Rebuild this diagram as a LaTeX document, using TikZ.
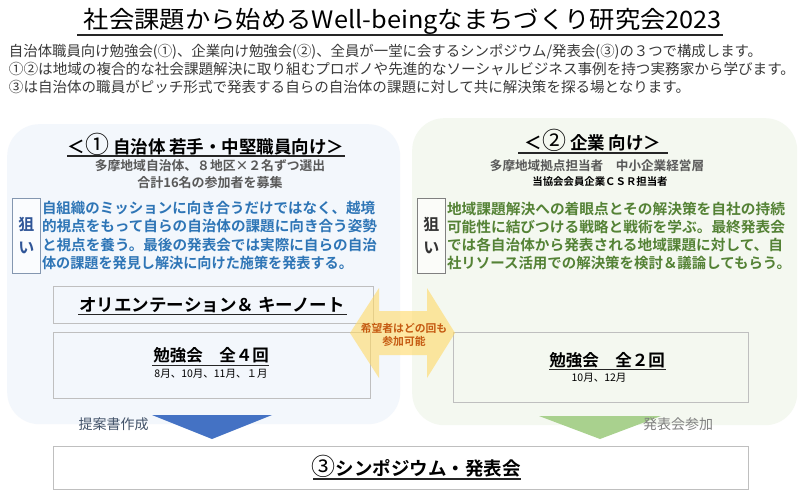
\documentclass[tikz,border=0pt]{standalone}
\usepackage{fontspec}
\usepackage{graphicx}
\setmainfont{Noto Sans CJK JP}[BoldFont={Noto Sans CJK JP Bold}]
\usetikzlibrary{calc}
\definecolor{lpanelc}{HTML}{F3F7FC}
\definecolor{rpanelc}{HTML}{F4F8F0}
\definecolor{boxline}{HTML}{BFBFBF}
\definecolor{bluetxt}{HTML}{2E75B6}
\definecolor{greentxt}{HTML}{548235}
\definecolor{graytxt}{HTML}{595959}
\definecolor{introtxt}{HTML}{3A3A3A}
\definecolor{arrowfill}{HTML}{FFD966}
\definecolor{arrowtxt}{HTML}{C55A11}
\definecolor{tblue}{HTML}{4472C4}
\definecolor{tgreen}{HTML}{A9D18E}
\definecolor{lbltxt}{HTML}{44546A}
\definecolor{lnerai}{HTML}{8497B0}
\definecolor{lneraitxt}{HTML}{2F5597}
\newcommand{\myfs}[1]{\fontsize{#1}{#1}\selectfont}
\newcommand{\fitw}[2]{\resizebox{#1}{\height}{#2}}
\begin{document}
\begin{tikzpicture}[x=1pt,y=-1pt,
  txt/.style={inner sep=0pt, outer sep=0pt},
  panel/.style={draw=none, rounded corners=32pt, anchor=north west, inner sep=0pt},
  box/.style={draw=boxline, line width=1pt, anchor=north west, inner sep=0pt},
  nerai/.style={line width=0.9pt, anchor=north west, inner sep=0pt, align=center, font=\bfseries\myfs{16}},
  uline/.style={line width=1.1pt, black!85},
  para/.style={txt, anchor=west, font=\bfseries\myfs{14.5}}
]
\useasboundingbox (0,0) rectangle (800,500);
\fill[white] (0,0) rectangle (800,500);

% title
\node[txt, font=\myfs{24}] (title) at (403,21.5) {\fitw{638pt}{社会課題から始めるWell-beingなまちづくり研究会2023}};
\draw[uline, line width=1.3pt] (77,35) coordinate (tu1) -- (723,35) coordinate (tu2);

% intro
\node[txt, anchor=west, font=\myfs{14.5}, text=introtxt] (intro1) at (9,52) {\fitw{753pt}{自治体職員向け勉強会(①)、企業向け勉強会(②)、全員が一堂に会するシンポジウム/発表会(③)の３つで構成します。}};
\node[txt, anchor=west, font=\myfs{14.5}, text=introtxt] (intro2) at (9,69.5) {\fitw{786pt}{①②は地域の複合的な社会課題解決に取り組むプロボノや先進的なソーシャルビジネス事例を持つ実務家から学びます。}};
\node[txt, anchor=west, font=\myfs{14.5}, text=introtxt] (intro3) at (9,87) {\fitw{681pt}{③は自治体の職員がピッチ形式で発表する自らの自治体の課題に対して共に解決策を探る場となります。}};

% panels
\node[panel, fill=lpanelc, minimum width=393pt, minimum height=300pt] (lp) at (7,124) {};
\node[panel, fill=rpanelc, minimum width=385pt, minimum height=307pt] (rp) at (412,118) {};

% left header
\node[txt, font=\bfseries\myfs{17.5}] (lh) at (206,144.5) {＜{\myfs{24}\mdseries ①} 自治体 若手・中堅職員向け＞};
\draw[uline] (67,156) coordinate (lhu1) -- (345,156) coordinate (lhu2);
\node[txt, font=\bfseries\myfs{12.8}, text=graytxt] (ls1) at (210,166) {多摩地域自治体、８地区×２名ずつ選出};
\node[txt, font=\bfseries\myfs{13}, text=graytxt] (ls2) at (210,183) {合計16名の参加者を募集};

% right header
\node[txt, font=\bfseries\myfs{17.5}] (rh) at (593,140.5) {＜{\myfs{24}\mdseries ②} 企業 向け＞};
\draw[uline] (518,153) coordinate (rhu1) -- (668,153) coordinate (rhu2);
\node[txt, font=\bfseries\myfs{12.6}, text=graytxt] (rs1) at (597,166) {多摩地域拠点担当者　中小企業経営層};
\node[txt, font=\bfseries\myfs{10.4}] (rs2) at (600,182) {当協会会員企業ＣＳＲ担当者};

% nerai boxes
\node[nerai, draw=lnerai, fill=white!60!lpanelc, text=lneraitxt, minimum width=28pt, minimum height=75pt] (ln) at (12,198) {狙\\[7pt]い};
\node[nerai, draw=gray, fill=white!60!rpanelc, text=black!80, minimum width=28pt, minimum height=75pt] (rn) at (417,198) {狙\\[7pt]い};

% left paragraph
\node[para, text=bluetxt] (lt1) at (42,208) {\fitw{333pt}{自組織のミッションに向き合うだけではなく、越境}};
\node[para, text=bluetxt] (lt2) at (42,226.5) {\fitw{335pt}{的視点をもって自らの自治体の課題に向き合う姿勢}};
\node[para, text=bluetxt] (lt3) at (42,245) {\fitw{335pt}{と視点を養う。最後の発表会では実際に自らの自治}};
\node[para, text=bluetxt] (lt4) at (42,263) {\fitw{311pt}{体の課題を発見し解決に向けた施策を発表する。}};

% right paragraph
\node[para, text=greentxt] (rt1) at (447,209) {\fitw{338pt}{地域課題解決への着眼点とその解決策を自社の持続}};
\node[para, text=greentxt] (rt2) at (447,227) {\fitw{338pt}{可能性に結びつける戦略と戦術を学ぶ。最終発表会}};
\node[para, text=greentxt] (rt3) at (447,245) {\fitw{336pt}{では各自治体から発表される地域課題に対して、自}};
\node[para, text=greentxt] (rt4) at (447,263) {\fitw{344pt}{社リソース活用での解決策を検討＆議論してもらう。}};

% boxes
\node[box, minimum width=320pt, minimum height=37pt] (orient) at (53,286) {};
\node[box, minimum width=317pt, minimum height=66pt] (lstudy) at (53,332) {};
\node[box, minimum width=295pt, minimum height=70pt] (rstudy) at (453,332) {};
\node[box, fill=white, minimum width=695pt, minimum height=43pt] (symp) at (53,446) {};

\node[txt, font=\bfseries\myfs{17.5}] (orientt) at (212,305.5) {オリエンテーション＆ キーノート};
\draw[uline] (78,314.5) coordinate (ou1) -- (347,314.5) coordinate (ou2);

\node[txt, font=\bfseries\myfs{16.5}] (lstudyt) at (211,355.5) {勉強会　全４回};
\draw[uline] (152,365.5) coordinate (lsu1) -- (269,365.5) coordinate (lsu2);
\node[txt, font=\myfs{10.5}] (lstudyd) at (211,374) {8月、10月、11月、１月};

\node[txt, font=\bfseries\myfs{16.5}] (rstudyt) at (607,360.5) {勉強会　全２回};
\draw[uline] (549,369.5) coordinate (rsu1) -- (666,369.5) coordinate (rsu2);
\node[txt, font=\myfs{10.5}] (rstudyd) at (599,378) {10月、12月};

\node[txt, font=\bfseries\myfs{18.5}] (sympt) at (416,466) {{\myfs{24}\mdseries ③}シンポジウム・発表会};
\draw[uline] (313,479) coordinate (su1) -- (521,479) coordinate (su2);

% double arrow
\fill[arrowfill, opacity=0.6] (350,333) -- (379,288) -- (379,311) -- (427,311) -- (427,288) -- (455,333) -- (427,378) -- (427,355) -- (379,355) -- (379,378) -- cycle;
\node[txt, font=\bfseries\myfs{10.8}, text=arrowtxt, align=center] (arrt) at (404,335) {希望者はどの回も\\[2pt]参加可能};

% triangles
\fill[tblue] (152,415) coordinate (bt1) -- (272,415) coordinate (bt2) -- (212,439) coordinate (bt3) -- cycle;
\fill[tgreen] (539,416) coordinate (gt1) -- (661,416) coordinate (gt2) -- (600,439) coordinate (gt3) -- cycle;
\node[txt, font=\myfs{14}, text=lbltxt] (lbl1) at (113.5,424) {提案書作成};
\node[txt, font=\myfs{14}, text=gray] (lbl2) at (678,424) {発表会参加};
\end{tikzpicture}
\end{document}
